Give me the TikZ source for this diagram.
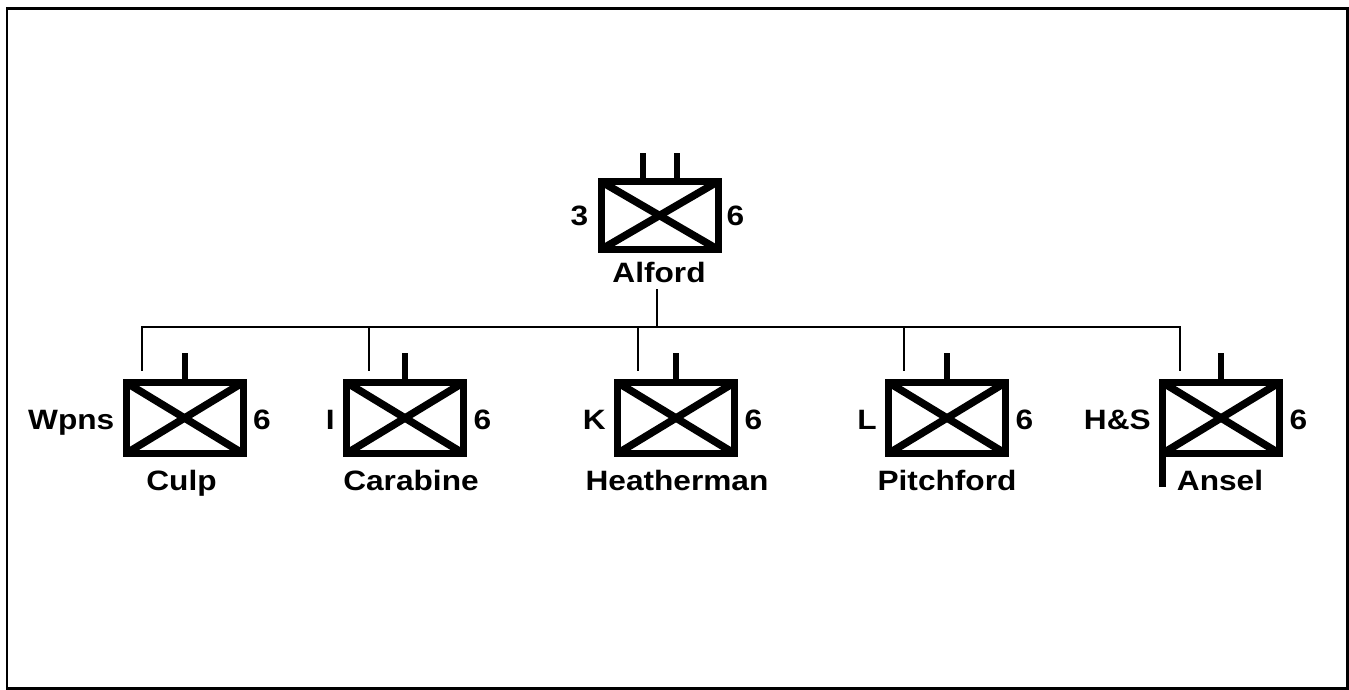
\documentclass[tikz,border=0pt]{standalone}
\usepackage{fontspec}
\setmainfont{Liberation Sans}
\begin{document}
\begin{tikzpicture}[x=1pt,y=-1pt,
  unit/.style={draw, line width=7pt, minimum width=117pt, minimum height=71pt, inner sep=0pt, outer sep=0pt},
  diag/.style={line width=7.5pt},
  tab/.style={line width=6pt},
  conn/.style={line width=2pt},
  lbl/.style={font=\fontsize{28}{32}\selectfont\bfseries, inner sep=0pt, xscale=1.13},
  frame/.style={line width=2.5pt}]
\useasboundingbox (0,0) rectangle (1349,690);
\draw[frame] (7,8.5) rectangle (1347.5,688.5);

% top unit
\node[unit, minimum height=68pt] (alford) at (659.5,215.5) {};
\draw[diag] (alford.north west) -- (alford.south east);
\draw[diag] (alford.south west) -- (alford.north east);
\draw[tab] ([xshift=-16.5pt]alford.north) -- ++(0,-28.5);
\draw[tab] ([xshift=17.5pt]alford.north) -- ++(0,-28.5);
\node[lbl, anchor=base] (alfordname) at (659,282) {Alford};
\node[lbl, anchor=base east] (alfordl) at ([xshift=-12.5pt,yshift=-9.5pt]alford.west) {3};
\node[lbl, anchor=base west] (alfordr) at ([xshift=8.5pt,yshift=-9.5pt]alford.east) {6};

% bottom units
\foreach \n/\x/\nx/\l/\name in {culp/184.5/181.5/Wpns/Culp, carabine/405/411/I/Carabine, heatherman/676/677/K/Heatherman, pitchford/947/947/L/Pitchford, ansel/1221/1220/H\&S/Ansel}{
  \node[unit] (\n) at (\x,418) {};
  \draw[diag] (\n.north west) -- (\n.south east);
  \draw[diag] (\n.south west) -- (\n.north east);
  \draw[tab] (\n.north) -- ++(0,-29.5);
  \node[lbl, anchor=base] (\n name) at (\nx,490) {\name};
  \node[lbl, anchor=base east] (\n l) at ([xshift=-11.5pt,yshift=-11.5pt]\n.west) {\l};
  \node[lbl, anchor=base west] (\n r) at ([xshift=10pt,yshift=-11.5pt]\n.east) {6};
}
\draw[diag] (ansel.south west) -- ++(0,33.5);

% connectors
\coordinate (trunktop) at (657,289);
\coordinate (bus) at (657,327);
\coordinate (d1) at (142,371);
\coordinate (d2) at (369,371);
\coordinate (d3) at (638,371);
\coordinate (d4) at (904,371);
\coordinate (d5) at (1180,371);
\draw[conn] (trunktop) -- (bus);
\foreach \d in {d1,d2,d3,d4,d5}{\draw[conn] (bus) -| (\d);}
\end{tikzpicture}
\end{document}
